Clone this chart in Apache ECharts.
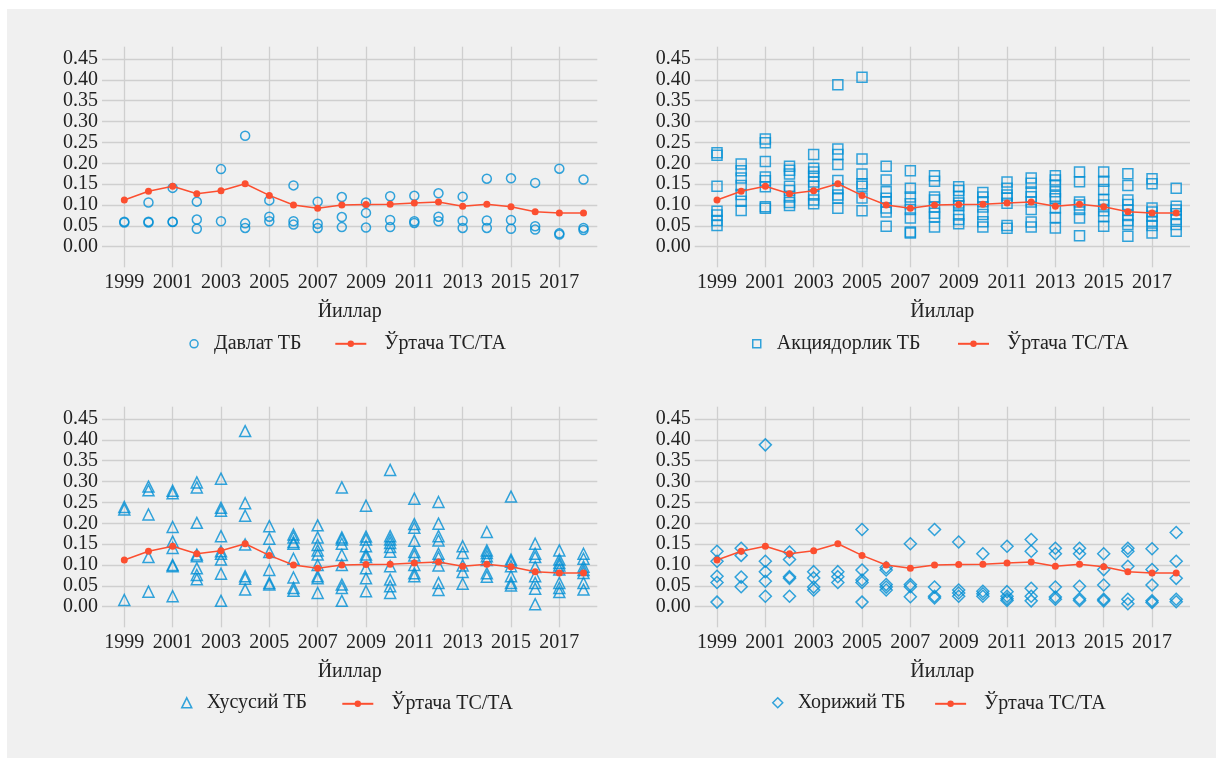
<!DOCTYPE html>
<html>
<head>
<meta charset="utf-8">
<script src="https://cdn.jsdelivr.net/npm/echarts@6/dist/echarts.min.js"></script>
<style>
  html, body { margin: 0; padding: 0; background: #fff; }
  #chart { position: absolute; left: 7px; top: 9px; width: 1209px; height: 749px; background: #f0f0f0; }
</style>
</head>
<body>
<div id="chart"></div>
<script>
// years on x axis, ratio TC/TA on y axis
const years = [1999, 2000, 2001, 2002, 2003, 2004, 2005, 2006, 2007, 2008,
               2009, 2010, 2011, 2012, 2013, 2014, 2015, 2016, 2017, 2018];
const xTicks = [1999, 2001, 2003, 2005, 2007, 2009, 2011, 2013, 2015, 2017];
const yTicks = [0, 0.05, 0.10, 0.15, 0.20, 0.25, 0.30, 0.35, 0.40, 0.45];

// average line (same in every panel)
const avgRatio = [0.112, 0.133, 0.145, 0.127, 0.134, 0.151, 0.123, 0.100, 0.092, 0.100,
                  0.101, 0.102, 0.105, 0.107, 0.097, 0.102, 0.096, 0.084, 0.081, 0.081];

// banks per year, one inner array per year
const stateBanks = [
  [0.060, 0.058], [0.106, 0.060, 0.058], [0.141, 0.060, 0.059], [0.108, 0.065, 0.043],
  [0.186, 0.061], [0.266, 0.056, 0.045], [0.111, 0.072, 0.061], [0.147, 0.061, 0.053],
  [0.108, 0.055, 0.045], [0.119, 0.071, 0.047], [0.106, 0.081, 0.046], [0.121, 0.064, 0.047],
  [0.122, 0.061, 0.057], [0.128, 0.072, 0.061], [0.120, 0.062, 0.045], [0.163, 0.063, 0.045],
  [0.164, 0.064, 0.043], [0.153, 0.049, 0.041], [0.187, 0.032, 0.029], [0.161, 0.045, 0.040]
];
const jointStockBanks = [
  [0.225, 0.219, 0.145, 0.085, 0.076, 0.063, 0.051],
  [0.198, 0.182, 0.165, 0.147, 0.125, 0.109, 0.087],
  [0.258, 0.249, 0.204, 0.167, 0.158, 0.144, 0.096, 0.092],
  [0.193, 0.183, 0.174, 0.145, 0.135, 0.119, 0.106, 0.099],
  [0.221, 0.188, 0.179, 0.169, 0.155, 0.145, 0.124, 0.112, 0.103],
  [0.388, 0.234, 0.221, 0.197, 0.159, 0.139, 0.124, 0.117, 0.092],
  [0.406, 0.210, 0.174, 0.151, 0.145, 0.117, 0.086],
  [0.193, 0.160, 0.132, 0.116, 0.107, 0.093, 0.083, 0.049],
  [0.182, 0.140, 0.119, 0.103, 0.089, 0.069, 0.035, 0.033],
  [0.170, 0.157, 0.119, 0.112, 0.095, 0.080, 0.071, 0.047],
  [0.144, 0.135, 0.121, 0.105, 0.098, 0.076, 0.065, 0.055],
  [0.130, 0.119, 0.108, 0.095, 0.077, 0.060, 0.047],
  [0.155, 0.140, 0.124, 0.117, 0.104, 0.051, 0.044],
  [0.165, 0.152, 0.131, 0.120, 0.107, 0.089, 0.059, 0.047],
  [0.170, 0.160, 0.148, 0.132, 0.121, 0.115, 0.093, 0.070, 0.045],
  [0.179, 0.156, 0.107, 0.100, 0.089, 0.069, 0.026],
  [0.179, 0.157, 0.137, 0.113, 0.100, 0.086, 0.072, 0.049],
  [0.175, 0.147, 0.112, 0.101, 0.088, 0.075, 0.063, 0.053, 0.025],
  [0.163, 0.151, 0.093, 0.083, 0.073, 0.061, 0.051, 0.033],
  [0.140, 0.097, 0.088, 0.079, 0.065, 0.053, 0.037]
];
const privateBanks = [
  [0.239, 0.233, 0.016],
  [0.288, 0.279, 0.221, 0.119, 0.036],
  [0.278, 0.272, 0.191, 0.156, 0.141, 0.100, 0.097, 0.025],
  [0.298, 0.286, 0.201, 0.125, 0.121, 0.092, 0.076, 0.066],
  [0.307, 0.237, 0.230, 0.169, 0.133, 0.127, 0.113, 0.079, 0.014],
  [0.421, 0.248, 0.218, 0.149, 0.073, 0.067, 0.041],
  [0.193, 0.163, 0.131, 0.088, 0.057, 0.053],
  [0.173, 0.166, 0.155, 0.151, 0.115, 0.070, 0.045, 0.038],
  [0.195, 0.166, 0.148, 0.135, 0.125, 0.100, 0.073, 0.068, 0.033],
  [0.286, 0.166, 0.161, 0.151, 0.124, 0.100, 0.053, 0.045, 0.014],
  [0.242, 0.168, 0.161, 0.145, 0.125, 0.119, 0.092, 0.068, 0.037],
  [0.328, 0.169, 0.161, 0.153, 0.143, 0.132, 0.097, 0.065, 0.049, 0.033],
  [0.259, 0.198, 0.189, 0.158, 0.131, 0.123, 0.100, 0.080, 0.073],
  [0.251, 0.199, 0.169, 0.159, 0.127, 0.118, 0.099, 0.057, 0.040],
  [0.145, 0.129, 0.099, 0.083, 0.055],
  [0.179, 0.135, 0.129, 0.121, 0.112, 0.080, 0.072],
  [0.264, 0.113, 0.108, 0.097, 0.073, 0.057, 0.051],
  [0.151, 0.127, 0.119, 0.095, 0.073, 0.057, 0.043, 0.006],
  [0.135, 0.113, 0.105, 0.099, 0.089, 0.057, 0.045, 0.035],
  [0.127, 0.115, 0.096, 0.088, 0.081, 0.057, 0.041]
];
const foreignBanks = [
  [0.133, 0.109, 0.073, 0.058, 0.011],
  [0.140, 0.123, 0.071, 0.048],
  [0.388, 0.109, 0.084, 0.061, 0.025],
  [0.131, 0.113, 0.072, 0.068, 0.025],
  [0.084, 0.069, 0.047, 0.040],
  [0.084, 0.072, 0.058],
  [0.185, 0.088, 0.064, 0.058, 0.011],
  [0.094, 0.088, 0.053, 0.047, 0.040],
  [0.151, 0.053, 0.048, 0.024],
  [0.185, 0.047, 0.025, 0.021],
  [0.155, 0.040, 0.033, 0.025],
  [0.127, 0.037, 0.031, 0.025],
  [0.145, 0.036, 0.025, 0.019, 0.015],
  [0.161, 0.133, 0.044, 0.025, 0.014],
  [0.140, 0.127, 0.047, 0.023, 0.018],
  [0.140, 0.127, 0.049, 0.019, 0.015],
  [0.127, 0.089, 0.052, 0.018, 0.014],
  [0.140, 0.133, 0.097, 0.018, 0.007],
  [0.139, 0.089, 0.052, 0.014, 0.010],
  [0.178, 0.109, 0.068, 0.018, 0.012]
];

const AVG_NAME = 'Ўртача ТС/ТА';
const BLUE = '#008fd5';
const RED = '#fc4f30';
const GRID_COLOR = '#cfcfcf';
const TEXT = '#222';
const FONT = "'Liberation Serif', 'Times New Roman', 'DejaVu Serif', serif";
const FS = 20;

// panel: title, data, marker; positions in container pixels
// legendA = centre of marker icon, legendB = left of line icon
const panels = [
  { name: 'Давлат ТБ', data: stateBanks, symbol: 'circle', size: 9, icon: 8, left: 95, top: 37.7, legendA: 186.3, legendB: 327.3 },
  { name: 'Акциядорлик ТБ', data: jointStockBanks, symbol: 'rect', size: 10, icon: 8, left: 687.7, top: 37.7, legendA: 749, legendB: 950 },
  { name: 'Хусусий ТБ', data: privateBanks, symbol: 'triangle', size: 11, icon: 10, left: 95, top: 397.7, legendA: 179, legendB: 334.3 },
  { name: 'Хорижий ТБ', data: foreignBanks, symbol: 'diamond', size: 12, icon: 10, left: 687.7, top: 397.7, legendA: 770, legendB: 927.1 }
];

function toPairs(perYear) {
  const out = [];
  perYear.forEach((vals, i) => vals.forEach(v => out.push([years[i], v])));
  return out;
}

const grid = [], xAxis = [], yAxis = [], series = [], legend = [];
panels.forEach((p, i) => {
  grid.push({ left: p.left, top: p.top, width: 495.3, height: 220.6 });
  xAxis.push({
    type: 'value', gridIndex: i, min: 1998.077, max: 2018.571,
    name: 'Йиллар', nameLocation: 'middle', nameGap: 34,
    nameTextStyle: { fontFamily: FONT, fontSize: FS, color: TEXT },
    axisLine: { show: false },
    axisTick: { show: false, customValues: xTicks },
    axisLabel: { customValues: xTicks, formatter: v => String(v), margin: 5, fontFamily: FONT, fontSize: FS, color: TEXT },
    splitLine: { show: true, lineStyle: { color: GRID_COLOR, width: 1.3 } }
  });
  yAxis.push({
    type: 'value', gridIndex: i, min: -0.0494, max: 0.4795,
    axisLine: { show: false },
    axisTick: { show: false, customValues: yTicks },
    axisLabel: { customValues: yTicks, formatter: v => v.toFixed(2), margin: 4, fontFamily: FONT, fontSize: FS, color: TEXT },
    splitLine: { show: true, lineStyle: { color: GRID_COLOR, width: 1.3 } }
  });
  series.push({
    name: p.name, type: 'scatter', xAxisIndex: i, yAxisIndex: i,
    symbol: p.symbol, symbolSize: p.size,
    itemStyle: { color: 'transparent', borderColor: BLUE, borderWidth: 1.5 },
    data: toPairs(p.data), z: 2
  });
  series.push({
    name: AVG_NAME, type: 'line', xAxisIndex: i, yAxisIndex: i,
    symbol: 'circle', symbolSize: 7, showSymbol: true,
    lineStyle: { color: RED, width: 1.5 }, itemStyle: { color: RED },
    data: years.map((y, k) => [y, avgRatio[k]]), z: 3
  });
  const ly = p.top + 220.6 + 66.5;
  legend.push({
    left: p.legendA - p.icon / 2, top: ly + (8 - p.icon) / 2, padding: 0, itemWidth: p.icon, itemHeight: p.icon,
    textStyle: { fontFamily: FONT, fontSize: FS, color: TEXT, padding: [0, 0, 0, 15 - p.icon / 2] },
    data: [{ name: p.name, icon: p.symbol, itemStyle: { color: 'transparent', borderColor: BLUE, borderWidth: 1.5 } }]
  });
  legend.push({
    left: p.legendB, top: ly, padding: 0, itemWidth: 31, itemHeight: 8,
    textStyle: { fontFamily: FONT, fontSize: FS, color: TEXT, padding: [0, 0, 0, 13] },
    data: [AVG_NAME]
  });
});

const chart = echarts.init(document.getElementById('chart'));
chart.setOption({
  backgroundColor: '#f0f0f0',
  animation: false,
  grid, xAxis, yAxis, series, legend
});
</script>
</body>
</html>
